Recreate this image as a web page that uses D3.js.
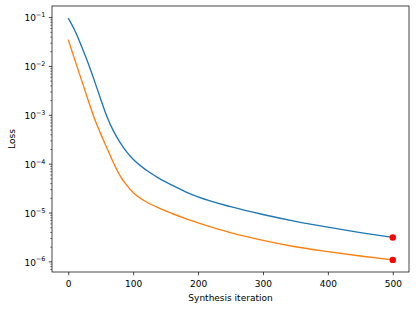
<!DOCTYPE html>
<html>
<head>
<meta charset="utf-8">
<script src="https://cdn.jsdelivr.net/npm/d3@7"></script>
<style>
  html, body { margin: 0; padding: 0; background: #fff; }
  svg { display: block; font-family: "DejaVu Sans", sans-serif; }
</style>
</head>
<body>
<svg id="chart" width="416" height="311"></svg>
<script>
// ---- data ----
const iterations = [0, 10, 20, 30, 40, 50, 60, 70, 80, 90, 100, 120, 140, 160, 180, 200, 250, 300, 350, 400, 450, 500];
// log10 of loss
const blueLog   = [-1.02, -1.27, -1.58, -1.92, -2.29, -2.68, -3.05, -3.34, -3.57, -3.76, -3.91, -4.13, -4.30, -4.44, -4.57, -4.68, -4.88, -5.04, -5.18, -5.30, -5.41, -5.51];
const orangeLog = [-1.46, -1.87, -2.27, -2.67, -3.06, -3.39, -3.69, -3.99, -4.25, -4.44, -4.59, -4.78, -4.91, -5.02, -5.12, -5.21, -5.41, -5.57, -5.70, -5.80, -5.89, -5.97];
const blueLoss = blueLog.map(v => Math.pow(10, v));
const orangeLoss = orangeLog.map(v => Math.pow(10, v));
const xTicks = [0, 100, 200, 300, 400, 500];
const yDecades = [-6, -5, -4, -3, -2, -1];
const xLabel = "Synthesis iteration";
const yLabel = "Loss";

// ---- layout ----
const svg = d3.select("#chart");
const L = 52, R = 409, T = 6, B = 272;
const fontSize = 9;

const xMin = 0, xMax = 500, xPad = (xMax - xMin) * 0.05;
const x = d3.scaleLinear().domain([xMin - xPad, xMax + xPad]).range([L, R]);

const allLog = blueLog.concat(orangeLog);
const lo = d3.min(allLog), hi = d3.max(allLog), lp = (hi - lo) * 0.05;
const y = d3.scaleLog().domain([Math.pow(10, lo - lp), Math.pow(10, hi + lp)]).range([B, T]);

// minor ticks
const [dLo, dHi] = y.domain();
const minor = [];
for (let e = Math.floor(Math.log10(dLo)); e <= Math.ceil(Math.log10(dHi)); e++) {
  for (let m = 2; m <= 9; m++) {
    const v = m * Math.pow(10, e);
    if (v >= dLo && v <= dHi) minor.push(v);
  }
}

// lines
svg.append("clipPath").attr("id", "clip")
  .append("rect").attr("x", L).attr("y", T).attr("width", R - L).attr("height", B - T);

const line = d3.line().curve(d3.curveMonotoneX)
  .x(d => x(d[0])).y(d => y(d[1]));

const g = svg.append("g").attr("clip-path", "url(#clip)");
g.append("path").datum(iterations.map((it, i) => [it, blueLoss[i]]))
  .attr("d", line).attr("fill", "none").attr("stroke", "#1f77b4").attr("stroke-width", 1.35);
g.append("path").datum(iterations.map((it, i) => [it, orangeLoss[i]]))
  .attr("d", line).attr("fill", "none").attr("stroke", "#ff7f0e").attr("stroke-width", 1.35);

// red end markers
const last = iterations.length - 1;
svg.selectAll("circle.end").data([blueLoss[last], orangeLoss[last]]).enter()
  .append("circle").attr("class", "end")
  .attr("cx", x(iterations[last])).attr("cy", d => y(d)).attr("r", 3.2)
  .attr("fill", "#ff0000");

// x axis
const xAxis = svg.append("g").attr("transform", `translate(0,${B})`)
  .call(d3.axisBottom(x).tickValues(xTicks).tickFormat(d3.format("d")).tickSize(3.2).tickPadding(5.2));
xAxis.select(".domain").remove();
xAxis.selectAll("line").attr("stroke", "#000").attr("stroke-width", 0.72);
xAxis.selectAll("text").attr("font-size", fontSize).attr("fill", "#000").attr("font-family", "DejaVu Sans");

// y axis major
const yAxis = svg.append("g").attr("transform", `translate(${L},0)`)
  .call(d3.axisLeft(y).tickValues(yDecades.map(e => Math.pow(10, e))).tickFormat("").tickSize(3.2));
yAxis.select(".domain").remove();
yAxis.selectAll("line").attr("stroke", "#000").attr("stroke-width", 0.72);

// y axis minor
const yMinor = svg.append("g").attr("transform", `translate(${L},0)`)
  .call(d3.axisLeft(y).tickValues(minor).tickFormat("").tickSize(1.8));
yMinor.select(".domain").remove();
yMinor.selectAll("line").attr("stroke", "#000").attr("stroke-width", 0.5);

// y tick labels 10^k
yDecades.forEach(e => {
  const t = svg.append("text")
    .attr("x", L - 3.2 - 3.2 - 0.3)
    .attr("y", y(Math.pow(10, e)) + 4.3)
    .attr("text-anchor", "end")
    .attr("font-size", fontSize)
    .attr("fill", "#000");
  t.append("tspan").text("10");
  t.append("tspan").attr("dy", -4.2).attr("font-size", 6.4).text("\u2212" + Math.abs(e));
});

// spines
svg.append("rect").attr("x", L).attr("y", T).attr("width", R - L).attr("height", B - T)
  .attr("fill", "none").attr("stroke", "#000").attr("stroke-width", 0.72);

// labels
svg.append("text").attr("x", (L + R) / 2).attr("y", 300.5)
  .attr("text-anchor", "middle").attr("font-size", fontSize).attr("fill", "#000").text(xLabel);
svg.append("text").attr("transform", `translate(15,${(T + B) / 2}) rotate(-90)`)
  .attr("text-anchor", "middle").attr("font-size", fontSize).attr("fill", "#000").text(yLabel);
</script>
</body>
</html>
